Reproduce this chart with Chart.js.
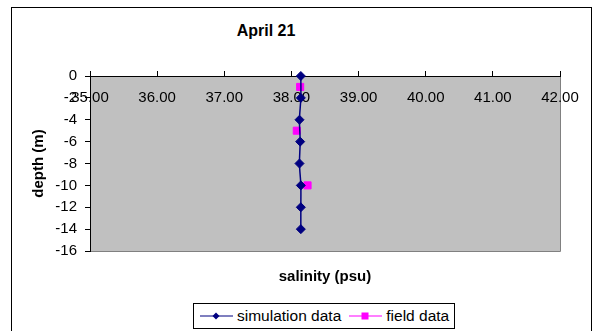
<!DOCTYPE html>
<html>
<head>
<meta charset="utf-8">
<title>April 21</title>
<script src="https://cdn.jsdelivr.net/npm/chart.js"></script>
<style>
  body { margin: 0; background: #fff; overflow: hidden; font-family: "Liberation Sans", Arial, sans-serif; }
  #wrap { position: relative; width: 593px; height: 331px; }
  #frame { position: absolute; left: 11px; top: 7px; width: 581px; height: 400px; border: 1px solid #000; box-sizing: border-box; }
  #chartTitle { position: absolute; left: 0; top: 21px; width: 532px; line-height: 20px; text-align: center; font-weight: bold; font-size: 16px; color: #000; }
  canvas { position: absolute; left: 0; top: 0; }
  #legend { position: absolute; left: 193px; top: 303px; width: 262px; height: 26px; border: 1px solid #000; box-sizing: border-box; background: #fff;
            display: flex; align-items: center; font-size: 15.5px; color: #000; padding-left: 6px; }
  #legend .item { display: flex; align-items: center; }
  #legend .item + .item { margin-left: 8px; }
  #legend svg { margin-right: 4px; }
</style>
</head>
<body>
<div id="wrap">
  <div id="frame"></div>
  <div id="chartTitle">April 21</div>
  <canvas id="salChart" width="593" height="331"></canvas>
  <div id="legend"></div>
</div>
<script>
// depth profile, metres below surface
const simDepth = [0, -2, -4, -6, -8, -10, -12, -14];
const simSalinity = [38.14, 38.14, 38.12, 38.13, 38.12, 38.14, 38.14, 38.14];

const fieldDepth = [-1, -5, -10];
const fieldSalinity = [38.13, 38.08, 38.24];

const xTicks = [35, 36, 37, 38, 39, 40, 41, 42];
const yTicks = [0, -2, -4, -6, -8, -10, -12, -14, -16];

const FONT = '"Liberation Sans", Arial, sans-serif';
Chart.defaults.font.family = FONT;
Chart.defaults.color = "#000";

const toPoints = (xs, ys) => xs.map((x, i) => ({ x: x, y: ys[i] }));

// grey plot area with a darker edge on the right and bottom
const plotArea = {
  id: "plotArea",
  beforeDraw(chart) {
    const { ctx, chartArea: a } = chart;
    ctx.save();
    ctx.fillStyle = "#c0c0c0";
    ctx.fillRect(a.left, a.top, a.right - a.left, a.bottom - a.top);
    ctx.strokeStyle = "#808080";
    ctx.lineWidth = 1;
    ctx.beginPath();
    ctx.moveTo(a.right + 0.5, a.top);
    ctx.lineTo(a.right + 0.5, a.bottom + 0.5);
    ctx.lineTo(a.left, a.bottom + 0.5);
    ctx.stroke();
    ctx.restore();
  }
};

const datasets = [
  {
    label: "simulation data",
    data: toPoints(simSalinity, simDepth),
    showLine: true,
    borderColor: "#000080",
    backgroundColor: "#000080",
    borderWidth: 1.5,
    tension: 0.35,
    pointStyle: "rectRot",
    pointRadius: 4.5,
    pointBorderWidth: 1,
    clip: false
  },
  {
    label: "field data",
    data: toPoints(fieldSalinity, fieldDepth),
    showLine: false,
    borderColor: "#ff00ff",
    backgroundColor: "#ff00ff",
    pointStyle: "rect",
    pointRadius: 5,
    pointBorderWidth: 1,
    clip: false
  }
];

const chart = new Chart(document.getElementById("salChart"), {
  type: "scatter",
  data: { datasets },
  plugins: [plotArea],
  options: {
    responsive: false,
    animation: false,
    layout: { padding: { top: 46, right: 33, left: 0, bottom: 0 } },
    plugins: {
      legend: { display: false },
      tooltip: { enabled: false },
      subtitle: {
        display: true,
        position: "bottom",
        fullSize: false,
        text: "salinity (psu)",
        color: "#000",
        font: { size: 15, weight: "bold", family: FONT },
        padding: { top: 16.5, bottom: 45.5 }
      }
    },
    scales: {
      x: {
        type: "linear",
        position: "top",
        min: xTicks[0],
        max: xTicks[xTicks.length - 1],
        afterBuildTicks: s => { s.ticks = xTicks.map(v => ({ value: v })); },
        afterFit: s => { s.height = 30; },
        // axis sits at depth 0, so its labels hang just under the line
        ticks: {
          font: { size: 15 },
          color: "#000",
          mirror: true,
          padding: 13,
          maxRotation: 0,
          autoSkip: false,
          callback: v => v.toFixed(2)
        },
        grid: { drawOnChartArea: false, color: "#000", tickLength: 5 },
        border: { color: "#000", width: 1 }
      },
      y: {
        type: "linear",
        min: yTicks[yTicks.length - 1],
        max: yTicks[0],
        afterBuildTicks: s => { s.ticks = yTicks.slice().reverse().map(v => ({ value: v })); },
        afterFit: s => { s.width = 90; },
        ticks: { font: { size: 15 }, color: "#000", padding: 8, autoSkip: false },
        grid: { drawOnChartArea: false, color: "#000", tickLength: 5 },
        border: { color: "#000", width: 1 },
        title: {
          display: true,
          text: "depth (m)",
          color: "#000",
          font: { size: 15, weight: "bold" },
          padding: { top: 30, bottom: 0 }
        }
      }
    }
  }
});

// legend: short line with the series marker, as in the spreadsheet style
const legendEl = document.getElementById("legend");
chart.data.datasets.forEach(ds => {
  const item = document.createElement("div");
  item.className = "item";
  const c = ds.borderColor;
  const marker = ds.pointStyle === "rectRot"
    ? `<polygon points="16,1.5 19.5,5 16,8.5 12.5,5" fill="${c}"/>`
    : `<rect x="12.5" y="1.5" width="7" height="7" fill="${c}"/>`;
  item.innerHTML =
    `<svg width="33" height="10"><line x1="0" y1="5" x2="33" y2="5" stroke="${c}" stroke-width="1.2"/>${marker}</svg>` +
    `<span>${ds.label}</span>`;
  legendEl.appendChild(item);
});
</script>
</body>
</html>
